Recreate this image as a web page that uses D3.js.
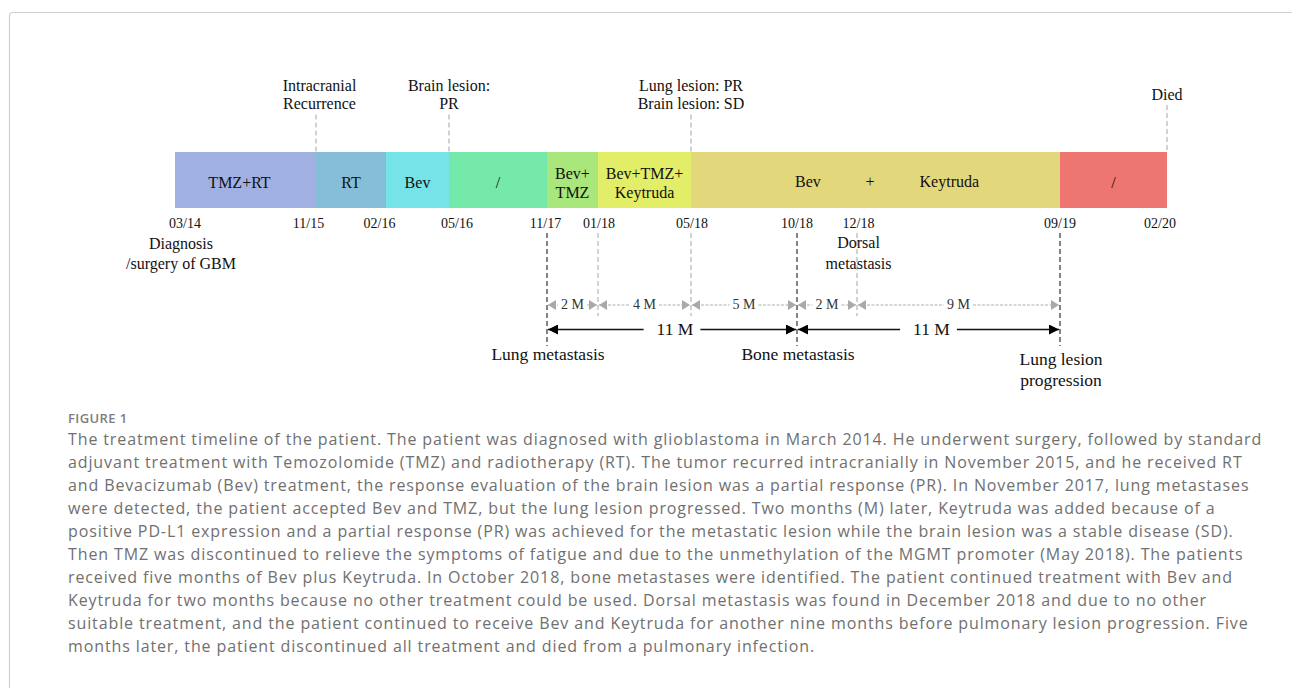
<!DOCTYPE html>
<html>
<head>
<meta charset="utf-8">
<script src="https://cdn.jsdelivr.net/npm/d3@7"></script>
<style>
  body { margin: 0; background: #fff; }
</style>
</head>
<body>
<svg id="chart" width="1292" height="688"></svg>
<script>
// tick dates along the timeline (MM/YY)
const dates = ['03/14', '11/15', '02/16', '05/16', '11/17', '01/18', '05/18', '10/18', '12/18', '09/19', '02/20'];

// treatment phases
const phaseStart = ['03/14', '11/15', '02/16', '05/16', '11/17', '01/18', '05/18', '09/19'];
const phaseEnd = ['11/15', '02/16', '05/16', '11/17', '01/18', '05/18', '09/19', '02/20'];
const phaseLabels = [['TMZ+RT'], ['RT'], ['Bev'], ['/'], ['Bev+', 'TMZ'], ['Bev+TMZ+', 'Keytruda'], ['Bev', '+', 'Keytruda'], ['/']];

// events above the bar
const topEventDates = ['11/15', '05/16', '05/18', '02/20'];
const topEventLabels = [['Intracranial', 'Recurrence'], ['Brain lesion:', 'PR'], ['Lung lesion: PR', 'Brain lesion: SD'], ['Died']];

// events below the bar
const minorEventDates = ['03/14', '12/18'];
const minorEventLabels = [['Diagnosis', '/surgery of GBM'], ['Dorsal', 'metastasis']];
const majorEventDates = ['11/17', '10/18', '09/19'];
const majorEventLabels = [['Lung metastasis'], ['Bone metastasis'], ['Lung lesion', 'progression']];

// intervals (months)
const shortFrom = ['11/17', '01/18', '05/18', '10/18', '12/18'];
const shortTo = ['01/18', '05/18', '10/18', '12/18', '09/19'];
const shortLabels = ['2 M', '4 M', '5 M', '2 M', '9 M'];
const longFrom = ['11/17', '10/18'];
const longTo = ['10/18', '09/19'];
const longLabels = ['11 M', '11 M'];

const captionTitle = 'FIGURE 1';
const captionLines = [
  'The treatment timeline of the patient. The patient was diagnosed with glioblastoma in March 2014. He underwent surgery, followed by standard',
  'adjuvant treatment with Temozolomide (TMZ) and radiotherapy (RT). The tumor recurred intracranially in November 2015, and he received RT',
  'and Bevacizumab (Bev) treatment, the response evaluation of the brain lesion was a partial response (PR). In November 2017, lung metastases',
  'were detected, the patient accepted Bev and TMZ, but the lung lesion progressed. Two months (M) later, Keytruda was added because of a',
  'positive PD-L1 expression and a partial response (PR) was achieved for the metastatic lesion while the brain lesion was a stable disease (SD).',
  'Then TMZ was discontinued to relieve the symptoms of fatigue and due to the unmethylation of the MGMT promoter (May 2018). The patients',
  'received five months of Bev plus Keytruda. In October 2018, bone metastases were identified. The patient continued treatment with Bev and',
  'Keytruda for two months because no other treatment could be used. Dorsal metastasis was found in December 2018 and due to no other',
  'suitable treatment, and the patient continued to receive Bev and Keytruda for another nine months before pulmonary lesion progression. Five',
  'months later, the patient discontinued all treatment and died from a pulmonary infection.'
];

// ---- layout ----
const phaseColors = ['#9fb0e1', '#86bdd7', '#75e3e7', '#74e9a9', '#a9e67b', '#e3ee68', '#e3d77b', '#ee7671'];
const xStops = [175, 316, 386, 449, 547, 598, 691, 797, 857, 1060, 1167];  // the timeline is not to scale
const dateNudge = [10, -7.5, -6.5, 8, -1.5, 1, 1, 0, 1.5, 0, -7];
const barTop = 152, barBottom = 208;
const SERIF = "'Liberation Serif', 'Times New Roman', Tinos, serif";
const SANS = "'Open Sans', 'Noto Sans', sans-serif";

function monthIndex(d) {
  const [m, y] = d.split('/').map(Number);
  return (2000 + y) * 12 + (m - 1);
}

const x = d3.scaleLinear()
  .domain(dates.map(monthIndex))
  .range(xStops);
const X = d => x(monthIndex(d));

const svg = d3.select('#chart');

function label(t, xp, yp, size, anchor) {
  return svg.append('text')
    .attr('x', xp)
    .attr('y', yp)
    .attr('text-anchor', anchor || 'middle')
    .attr('font-family', SERIF)
    .attr('font-size', size)
    .attr('fill', '#111')
    .text(t);
}

// frame
svg.append('path')
  .attr('d', 'M9.5,700 L9.5,16 Q9.5,12.5 13,12.5 L1300,12.5')
  .attr('fill', 'none')
  .attr('stroke', '#d0d0d0')
  .attr('stroke-width', 1.2);

// phase bar
const phases = phaseStart.map((s, i) => ({ s, e: phaseEnd[i], label: phaseLabels[i], color: phaseColors[i] }));
svg.selectAll('rect.phase')
  .data(phases)
  .enter()
  .append('rect')
  .attr('class', 'phase')
  .attr('x', d => X(d.s))
  .attr('y', barTop)
  .attr('width', d => X(d.e) - X(d.s))
  .attr('height', barBottom - barTop)
  .attr('fill', d => d.color);

phases.forEach((d, i) => {
  const cx = (X(d.s) + X(d.e)) / 2 + (i === 0 ? -6 : 0);
  const cy = (barTop + barBottom) / 2;
  if (d.label.length === 3) {
    // spread label across the long phase
    const fr = [0.317, 0.485, 0.70];
    d.label.forEach((t, j) => label(t, X(d.s) + fr[j] * (X(d.e) - X(d.s)), cy + 7, 16));
  } else {
    const n = d.label.length;
    d.label.forEach((t, j) => label(t, cx, cy + 8 + (j - (n - 1) / 2) * 19, 16));
  }
});

// date ticks
dates.forEach((d, i) => label(d, X(d) + dateNudge[i], 227.5, 14));

function vline(xp, y1, y2, color, dash) {
  svg.append('line')
    .attr('x1', xp).attr('x2', xp)
    .attr('y1', y1).attr('y2', y2)
    .attr('stroke', color)
    .attr('stroke-width', 1.2)
    .attr('stroke-dasharray', dash);
}

function multiline(lines, cx, y0, size, gap) {
  lines.forEach((t, j) => label(t, cx, y0 + j * gap, size));
}

// top events
topEventDates.forEach((d, i) => {
  const lines = topEventLabels[i];
  const y0 = lines.length === 1 ? 100 : 90.5;
  vline(X(d), y0 + (lines.length - 1) * 19 + 5, barTop, '#b5b5b5', '5,3');
  multiline(lines, X(d) + (i === 0 ? 3.5 : 0), y0, 16, 18.5);
});

// gray dashed connectors below the bar
['01/18', '05/18'].forEach(d => vline(X(d), 233, 316, '#b5b5b5', '5,3'));
vline(X(minorEventDates[1]), 233, 316, '#b5b5b5', '5,3');

minorEventLabels.forEach((lines, i) => {
  multiline(lines, X(minorEventDates[i]) + (i === 0 ? 6 : 1.5), i === 0 ? 249 : 247.5, 16, i === 0 ? 20 : 21);
});

// black dashed connectors
majorEventDates.forEach(d => vline(X(d), 233, 346, '#333', '5,3'));
majorEventLabels.forEach((lines, i) => {
  multiline(lines, X(majorEventDates[i]) + 1, lines.length === 1 ? 360 : 365, 17.5, 21);
});

// arrow markers
const defs = svg.append('defs');
function marker(id, color, w, h, dir) {
  defs.append('marker')
    .attr('id', id)
    .attr('viewBox', `0 0 ${w} ${h}`)
    .attr('refX', dir > 0 ? w : 0)
    .attr('refY', h / 2)
    .attr('markerWidth', w)
    .attr('markerHeight', h)
    .attr('markerUnits', 'userSpaceOnUse')
    .attr('orient', 0)
    .append('path')
    .attr('d', dir > 0 ? `M0,0 L${w},${h / 2} L0,${h} Z` : `M${w},0 L0,${h / 2} L${w},${h} Z`)
    .attr('fill', color);
}
marker('gR', '#a9a9a9', 8, 10, 1);
marker('gL', '#a9a9a9', 8, 10, -1);
marker('bR', '#000', 10, 10, 1);
marker('bL', '#000', 10, 10, -1);

function interval(a, b, txt, y, opt) {
  const xa = X(a) + 1, xb = X(b) - 1;
  const mid = (xa + xb) / 2 + opt.shift;
  const t = label(txt, mid, y + opt.size * 0.3, opt.size).attr('fill', opt.text);
  const half = t.node().getComputedTextLength() / 2;
  svg.append('line')
    .attr('x1', xa).attr('x2', Math.max(xa + 9, mid - half - opt.padL))
    .attr('y1', y).attr('y2', y)
    .attr('stroke', opt.color)
    .attr('stroke-width', opt.width)
    .attr('stroke-dasharray', opt.dash)
    .attr('marker-start', `url(#${opt.id}L)`);
  svg.append('line')
    .attr('x1', Math.min(xb - 9, mid + half + opt.padR)).attr('x2', xb)
    .attr('y1', y).attr('y2', y)
    .attr('stroke', opt.color)
    .attr('stroke-width', opt.width)
    .attr('stroke-dasharray', opt.dash)
    .attr('marker-end', `url(#${opt.id}R)`);
}

shortLabels.forEach((l, i) => {
  interval(shortFrom[i], shortTo[i], l, 305,
    { size: 14, text: '#333', color: '#b0b0b0', width: 1, dash: '3,1.5', id: 'g', padL: 3, padR: 3, shift: 0 });
});
longLabels.forEach((l, i) => {
  interval(longFrom[i], longTo[i], l, 329.5,
    { size: 17.5, text: '#111', color: '#111', width: 1.5, dash: null, id: 'b', padL: 13, padR: 7, shift: 3 });
});

// caption
svg.append('text')
  .attr('x', 68)
  .attr('y', 423)
  .attr('font-family', SANS)
  .attr('font-size', 13)
  .attr('font-weight', 600)
  .attr('letter-spacing', 0.4)
  .attr('fill', '#7d7d7d')
  .text(captionTitle);

svg.selectAll('text.capline')
  .data(captionLines)
  .enter()
  .append('text')
  .attr('class', 'capline')
  .attr('x', 68)
  .attr('y', (d, i) => 445 + i * 23)
  .attr('font-family', SANS)
  .attr('font-size', 16)
  .attr('letter-spacing', 0.88)
  .attr('fill', '#707070')
  .text(d => d);
</script>
</body>
</html>
